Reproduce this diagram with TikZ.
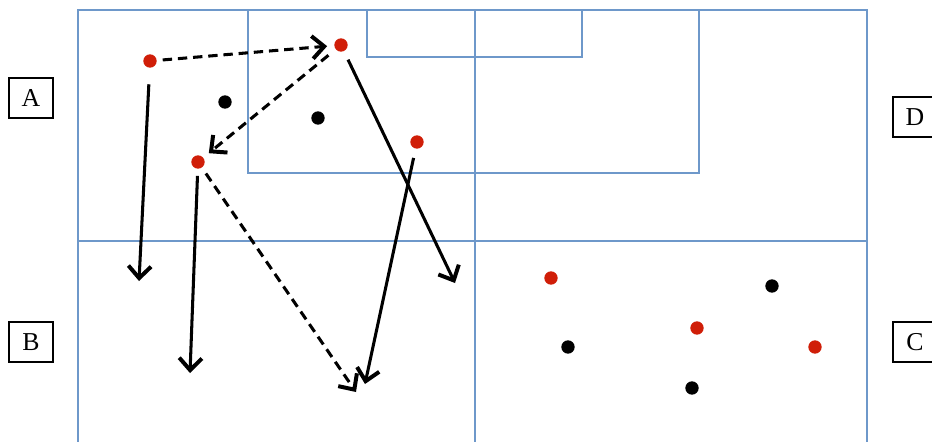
\documentclass[tikz,border=0pt]{standalone}
\usepackage{fontspec}
\setmainfont{Liberation Serif}
\usetikzlibrary{arrows.meta, positioning}
\definecolor{lineablue}{RGB}{110,152,202}
\definecolor{puntored}{RGB}{208,30,8}
\tikzstyle{campo} = [draw=lineablue, line width=2pt]
\tikzstyle{rojo} = [circle, fill=puntored, inner sep=0pt, minimum size=0.4cm]
\tikzstyle{negro} = [circle, fill=black, inner sep=0pt, minimum size=0.4cm]
\tikzstyle{etiqueta} = [rectangle, draw=black, line width=1.4pt, minimum width=1.32cm, minimum height=1.2cm, font=\fontsize{22}{26}\selectfont]
\tikzstyle{carrera} = [line width=2.6pt, -{Straight Barb[length=3.6mm, width=6.8mm, line width=3.4pt]}]
\tikzstyle{pase} = [carrera, dash pattern=on 8pt off 5pt]

\begin{document}
\begin{tikzpicture}[x=0.03cm, y=-0.03cm]
    \useasboundingbox (0,0) rectangle (932,441);
    % Campo
    \draw [campo] (78,450) -- (78,10) -- (867,10) -- (867,450);
    \draw [campo] (78,241) -- (867,241);
    \draw [campo] (475,10) -- (475,450);
    \draw [campo] (248,10) rectangle (699,173);
    \draw [campo] (367,10) rectangle (582,57);

    % Etiquetas de zona
    \node (A) [etiqueta] at (31,98) {A};
    \node (B) [etiqueta] at (31,342) {B};
    \node (D) [etiqueta] at (915,117) {D};
    \node (C) [etiqueta] at (915,342) {C};

    % Jugadores
    \node (a1) [rojo] at (150,61) {};
    \node (a2) [rojo] at (341,45) {};
    \node (a3) [rojo] at (198,162) {};
    \node (a4) [rojo] at (417,142) {};
    \node (d1) [negro] at (225,102) {};
    \node (d2) [negro] at (318,118) {};
    \node (a5) [rojo] at (551,278) {};
    \node (a6) [rojo] at (697,328) {};
    \node (a7) [rojo] at (815,347) {};
    \node (d3) [negro] at (772,286) {};
    \node (d4) [negro] at (568,347) {};
    \node (d5) [negro] at (692,388) {};

    % Destinos de las carreras
    \coordinate (f1) at (139,281);
    \coordinate (f2) at (455,283);
    \coordinate (f3) at (190,373);
    \coordinate (f4) at (356,392);
    \coordinate (f5) at (365,384);

    \draw [pase, shorten <=5pt, shorten >=6pt] (a1) -- (a2);
    \draw [pase, shorten <=8pt, shorten >=6pt] (a2) -- (a3);
    \draw [carrera, shorten <=14pt] (a1) -- (f1);
    \draw [carrera, shorten <=8pt] (a2) -- (f2);
    \draw [carrera, shorten <=6pt] (a3) -- (f3);
    \draw [pase, shorten <=6pt] (a3) -- (f4);
    \draw [carrera, shorten <=8pt] (a4) -- (f5);
\end{tikzpicture}
\end{document}
